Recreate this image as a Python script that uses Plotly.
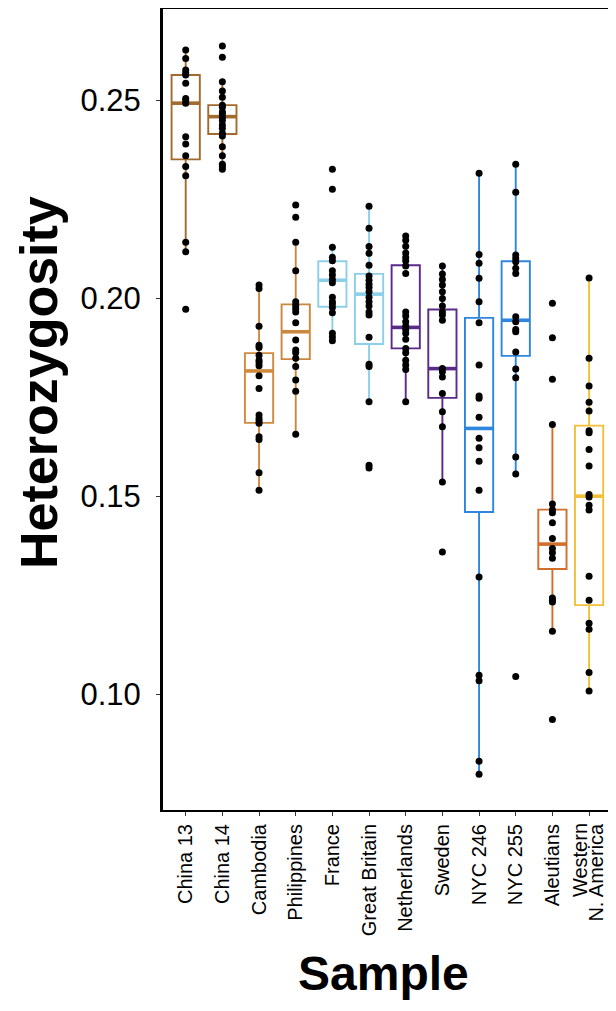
import plotly.graph_objects as go

categories = ["China 13", "China 14", "Cambodia", "Philippines", "France", "Great Britain",
              "Netherlands", "Sweden", "NYC 246", "NYC 255", "Aleutians", "Western N. America"]
last_label_lines = ["Western", "N. America"]

colors = ["#A36A2E", "#A36A2E", "#D08A3E", "#C98840", "#8CCFEB", "#8CCFEB",
          "#5A2A8A", "#5A2A8A", "#2E86DE", "#2E86DE", "#D06E2A", "#F2C037"]

china13 = [0.2626, 0.2605, 0.2576, 0.2569, 0.2563, 0.2542, 0.2504, 0.2498, 0.2492, 0.2407,
           0.2389, 0.2359, 0.2332, 0.2309, 0.2141, 0.2117, 0.1972]
china14 = [0.2636, 0.2608, 0.2546, 0.2523, 0.2507, 0.2487, 0.2482, 0.2470, 0.2465, 0.2456,
           0.2448, 0.2437, 0.2429, 0.2416, 0.2409, 0.2382, 0.2359, 0.2338, 0.2332, 0.2325]
cambodia = [0.2033, 0.2024, 0.1929, 0.1881, 0.1875, 0.1856, 0.1843, 0.1837, 0.1829, 0.1804,
            0.1772, 0.1705, 0.1696, 0.1690, 0.1684, 0.1650, 0.1643, 0.1559, 0.1515]
philippines = [0.2235, 0.2204, 0.2141, 0.2069, 0.1991, 0.1982, 0.1974, 0.1965, 0.1938, 0.1894,
               0.1869, 0.1862, 0.1848, 0.1827, 0.1793, 0.1765, 0.1656]
france = [0.2325, 0.2275, 0.2128, 0.2103, 0.2094, 0.2069, 0.2058, 0.2047, 0.2039, 0.2002,
          0.1991, 0.1985, 0.1976, 0.1963, 0.1911, 0.1902, 0.1892]
great_britain = [0.2232, 0.2176, 0.2130, 0.2113, 0.2083, 0.2056, 0.2045, 0.2035, 0.2027, 0.2016,
                 0.2002, 0.1991, 0.1980, 0.1965, 0.1957, 0.1901, 0.1833, 0.1827, 0.1738, 0.1578, 0.1571]
netherlands = [0.2157, 0.2146, 0.2131, 0.2114, 0.2103, 0.2094, 0.2081, 0.2062, 0.1965, 0.1955,
               0.1940, 0.1929, 0.1921, 0.1911, 0.1896, 0.1873, 0.1862, 0.1843, 0.1831, 0.1820, 0.1738]
sweden = [0.2081, 0.2061, 0.2047, 0.2033, 0.2016, 0.1999, 0.1980, 0.1965, 0.1957, 0.1944,
          0.1822, 0.1814, 0.1801, 0.1759, 0.1713, 0.1675, 0.1536, 0.1359]
nyc246 = [0.2315, 0.2110, 0.2088, 0.2050, 0.1991, 0.1938, 0.1831, 0.1753, 0.1747, 0.1699,
          0.1646, 0.1622, 0.1588, 0.1515, 0.1296, 0.1048, 0.1034, 0.0831, 0.0798]
nyc255 = [0.2338, 0.2267, 0.2109, 0.2100, 0.2092, 0.2075, 0.2062, 0.1953, 0.1940, 0.1921,
          0.1915, 0.1864, 0.1821, 0.1799, 0.1599, 0.1556, 0.1045]
aleutians = [0.1987, 0.1900, 0.1795, 0.1681, 0.1480, 0.1465, 0.1458, 0.1433, 0.1393, 0.1368,
             0.1357, 0.1343, 0.1243, 0.1237, 0.1233, 0.1159, 0.0936]
western = [0.2051, 0.1848, 0.1778, 0.1737, 0.1715, 0.1665, 0.1660, 0.1618, 0.1576, 0.1504,
           0.1498, 0.1477, 0.1465, 0.1298, 0.1237, 0.1179, 0.1164, 0.1055, 0.1008]

samples = [china13, china14, cambodia, philippines, france, great_britain,
           netherlands, sweden, nyc246, nyc255, aleutians, western]

q1s = [0.2350, 0.2414, 0.1685, 0.1846, 0.1978, 0.1884, 0.1873, 0.1748, 0.1460, 0.1854, 0.1316, 0.1225]
medians = [0.2492, 0.2458, 0.1816, 0.1915, 0.2045, 0.2010, 0.1926, 0.1822, 0.1671, 0.1944, 0.1379, 0.1500]
q3s = [0.2563, 0.2487, 0.1861, 0.1984, 0.2093, 0.2061, 0.2083, 0.1971, 0.1950, 0.2093, 0.1466, 0.1678]
lower_whiskers = [0.2117, 0.2325, 0.1515, 0.1656, 0.1892, 0.1738, 0.1738, 0.1536, 0.0798, 0.1556, 0.1159, 0.1008]
upper_whiskers = [0.2626, 0.2546, 0.2033, 0.2141, 0.2128, 0.2232, 0.2157, 0.2081, 0.2315, 0.2338, 0.1681, 0.2051]

y_ticks = [0.10, 0.15, 0.20, 0.25]
y_ticktext = ["0.10", "0.15", "0.20", "0.25"]

box_width = 0.77

fig = go.Figure()

for i, cat in enumerate(categories):
    fig.add_trace(go.Box(
        x=[i], q1=[q1s[i]], median=[medians[i]], q3=[q3s[i]],
        lowerfence=[lower_whiskers[i]], upperfence=[upper_whiskers[i]],
        width=box_width, whiskerwidth=0,
        fillcolor="rgba(255,255,255,0)",
        line=dict(color=colors[i], width=1.9),
        boxpoints=False, showlegend=False, hoverinfo="skip", name=cat,
    ))

for i, cat in enumerate(categories):
    fig.add_trace(go.Scatter(
        x=[i - box_width / 2, i + box_width / 2], y=[medians[i], medians[i]],
        mode="lines", line=dict(color=colors[i], width=3.6),
        showlegend=False, hoverinfo="skip",
    ))

for i, cat in enumerate(categories):
    fig.add_trace(go.Scatter(
        x=[i] * len(samples[i]), y=samples[i], mode="markers",
        marker=dict(color="black", size=7),
        showlegend=False, hoverinfo="skip",
    ))

W, H = 600, 995
L, R, T, B = 155, 0, 1, 193
pw, ph = W - L - R, H - T - B

fig.update_layout(
    width=W, height=H,
    margin=dict(l=L, r=R, t=T, b=B),
    paper_bgcolor="white", plot_bgcolor="white",
    font=dict(family="Liberation Sans, Arial, sans-serif", color="black"),
    boxmode="overlay",
)

ticktext = categories[:-1] + [""]

fig.update_xaxes(
    range=[-0.619, 11.516],
    tickmode="array", tickvals=list(range(len(categories))), ticktext=ticktext,
    tickangle=-90, tickfont=dict(size=20, color="black"),
    showline=True, linecolor="black", linewidth=2, mirror=True,
    ticks="outside", ticklen=4, tickcolor="#333333", tickwidth=1,
    showgrid=False, zeroline=False,
)

fig.update_yaxes(
    range=[0.07078, 0.27297],
    tickmode="array", tickvals=y_ticks, ticktext=y_ticktext,
    tickfont=dict(size=31, color="black"),
    showline=True, linecolor="black", linewidth=3,
    ticks="outside", ticklen=4, tickcolor="#333333", tickwidth=1,
    ticklabelstandoff=9,
    showgrid=False, zeroline=False,
)

# last category label on two lines, placed around its tick
label_top = (ph + T - 814) / ph
for line_text, shift in zip(last_label_lines, [-9, 6]):
    fig.add_annotation(
        text=line_text, xref="x", yref="paper",
        x=len(categories) - 1, y=label_top, xshift=shift, textangle=-90,
        showarrow=False, xanchor="center", yanchor="top", borderpad=0,
        font=dict(size=20, color="black"),
    )

fig.add_annotation(
    text="Heterozygosity", xref="paper", yref="paper",
    x=(31 - L) / pw, y=(ph + T - 375) / ph, textangle=-90,
    showarrow=False, xanchor="center", yanchor="middle", borderpad=0,
    font=dict(size=52, weight="bold", color="black"),
)
fig.add_annotation(
    text="Sample", xref="paper", yref="paper",
    x=(375 - L) / pw, y=(ph + T - 965) / ph,
    showarrow=False, xanchor="center", yanchor="middle", borderpad=0,
    font=dict(size=48, weight="bold", color="black"),
)

fig.write_html("out.html")
